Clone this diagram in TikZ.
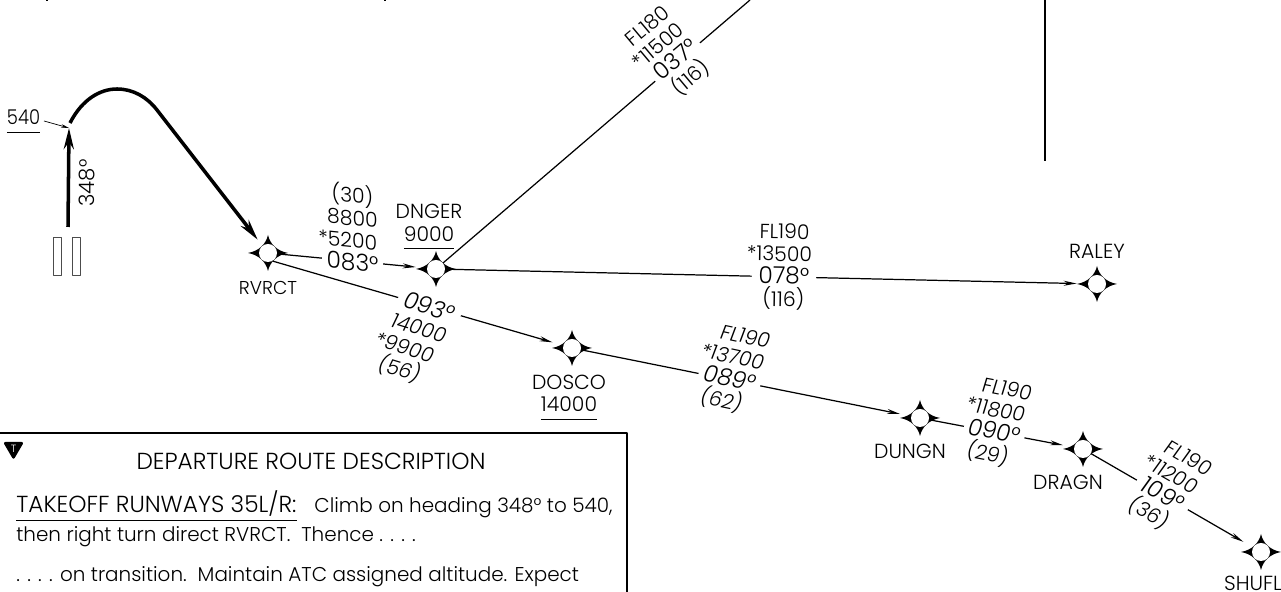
\documentclass[tikz,border=0pt]{standalone}
\usepackage{fontspec}
\setmainfont{Poppins Light}
\usetikzlibrary{arrows.meta}
\newcommand{\ulined}[1]{\underline{\vrule depth 2.8pt width 0pt #1}}
\newcommand{\crs}[1]{{\fontsize{13.3}{13}\selectfont #1}}
\newcommand{\minalt}[1]{\llap{*}#1}
\newcommand{\capsize}{\fontsize{13.2}{12.8}\selectfont}
\tikzset{
	leg/.style={line width=.7pt,-{Stealth[length=.26cm,width=.1cm]},shorten >=.22cm},
	track/.style={line width=2pt,-{Stealth[length=.42cm,width=.2cm]}},
	stack/.style={fill=white,inner xsep=2.5pt,inner ysep=1pt,align=center,font=\fontsize{11.6}{12.8}\selectfont},
	fixname/.style={inner sep=0pt,align=center,font=\fontsize{11.6}{12.8}\selectfont},
	boxtext/.style={inner sep=0pt,font=\fontsize{11.35}{12.8}\selectfont},
	fix/.style={circle,fill=white,inner sep=0pt,minimum size=.36cm},
	fixmark/.pic={\fill (.4,0) .. controls (.18,.04) and (.04,.18) .. (0,.36) .. controls (-.04,.18) and (-.18,.04) .. (-.4,0) .. controls (-.18,-.04) and (-.04,-.18) .. (0,-.36) .. controls (.04,-.18) and (.18,-.04) .. (.4,0) -- cycle;}
}
\begin{document}
\begin{tikzpicture}[line join=round]
	\useasboundingbox (0,0) rectangle (25.62,11.84);
	\foreach \p/\x/\y in {RVRCT/5.36/6.78,DNGER/8.72/6.46,DOSCO/11.44/4.88,RALEY/21.94/6.16,DUNGN/18.40/3.48,DRAGN/21.66/2.86,SHUFL/25.22/.80} {
		\path (\x,\y) pic {fixmark};
		\node[fix] (\p) at (\x,\y) {};
	}
	\coordinate (RWY) at (1.36,7.30);
	\coordinate (TURN) at (1.38,9.28);
	\coordinate (NORTH) at (15,11.84);
	\draw[track] (RWY)--(TURN);
	\draw[track,shorten >=.15cm] (1.40,9.38) .. controls (1.64,9.85) and (2.0,10.06) .. (2.34,10.06) .. controls (2.66,10.06) and (2.94,9.90) .. (3.14,9.64)--(RVRCT);
	\foreach \x in {1.06,1.44} \draw[line width=.4pt,black!70] (\x,7.10) rectangle ++(.16,-.76);
	\draw[leg] (RVRCT)--(DNGER);
	\draw[leg] (RVRCT.-60)--(DOSCO);
	\draw[line width=.7pt] (DNGER)--(NORTH);
	\draw[leg] (DNGER)--(RALEY);
	\draw[leg] (DOSCO)--(DUNGN);
	\draw[leg] (DUNGN)--(DRAGN);
	\draw[leg] (DRAGN)--(SHUFL);
	\node[stack,yslant=-.1] (s083) at (7.05,7.29) {(30)\\8800\\\minalt{5200}\\\crs{083°}};
	\node[stack,rotate=-17,xslant=.15] (s093) at (8.28,5.06) {\crs{093°}\\14000\\\minalt{9900}\\(56)};
	\node[stack,rotate=40] (s037) at (13.40,10.78) {FL180\\\minalt{11500}\\\crs{037°}\\(116)};
	\node[stack,rotate=-1] (s078) at (15.68,6.50) {FL190\\\minalt{13500}\\\crs{078°}\\(116)};
	\node[stack,rotate=-12,xslant=.15] (s089) at (14.66,4.44) {FL190\\\minalt{13700}\\\crs{089°}\\(62)};
	\node[stack,rotate=-11,xslant=.1] (s090) at (19.94,3.38) {FL190\\\minalt{11800}\\\crs{090°}\\(29)};
	\node[stack,rotate=-30,xslant=.1] (s109) at (23.36,2.10) {FL190\\\minalt{11200}\\\crs{109°}\\(36)};
	\node[fixname,font=\fontsize{10.6}{12.8}\selectfont] (nRVRCT) at (5.36,6.08) {RVRCT};
	\node[fixname] (nDNGER) at (8.58,7.30) {DNGER\\\ulined{9000}};
	\node[fixname] (nDOSCO) at (11.38,3.89) {DOSCO\\\ulined{14000}};
	\node[fixname] (nRALEY) at (21.94,6.82) {RALEY};
	\node[fixname] (nDUNGN) at (18.20,2.82) {DUNGN};
	\node[fixname] (nDRAGN) at (21.36,2.20) {DRAGN};
	\node[fixname] (nSHUFL) at (25.06,.18) {SHUFL};
	\node[fixname,anchor=base,xscale=.88] (n540) at (.47,9.34) {\ulined{540}};
	\draw[line width=.4pt,-{Stealth[length=.16cm,width=.07cm]}] (.88,9.42)--(TURN);
	\node[fixname,rotate=90,font=\fontsize{12.1}{13}\selectfont] (n348) at (1.74,8.18) {348°};
	\draw[line width=1.1pt] (0,3.18)--(12.54,3.18)--(12.54,0);
	\fill[rounded corners=.05cm] (.06,3.00)--(.48,3.00)--(.27,2.64)--cycle;
	\node[white,inner sep=0pt,font=\fontsize{6}{6}\selectfont] (tmark) at (.27,2.86) {T};
	\node[boxtext,anchor=base,font=\capsize] (boxhead) at (6.22,2.44) {DEPARTURE ROUTE DESCRIPTION};
	\node[boxtext,anchor=base west] (line1) at (.32,1.58) {\ulined{\capsize TAKEOFF RUNWAYS 35L/R:}\hspace{4pt}\ \ Climb on heading 348° to 540,};
	\node[boxtext,anchor=base west] (line2) at (.32,1.00) {then right turn direct RVRCT.\ \ Thence . . . .};
	\node[boxtext,anchor=base west] (line3) at (.32,.20) {. . . . on transition.\ \ Maintain ATC assigned altitude. Expect};
	\draw[line width=.8pt] (20.90,11.84)--(20.90,8.62);
	\foreach \x in {.92,7.68} \fill (\x,11.84) rectangle ++(.04,-.03);
\end{tikzpicture}
\end{document}
